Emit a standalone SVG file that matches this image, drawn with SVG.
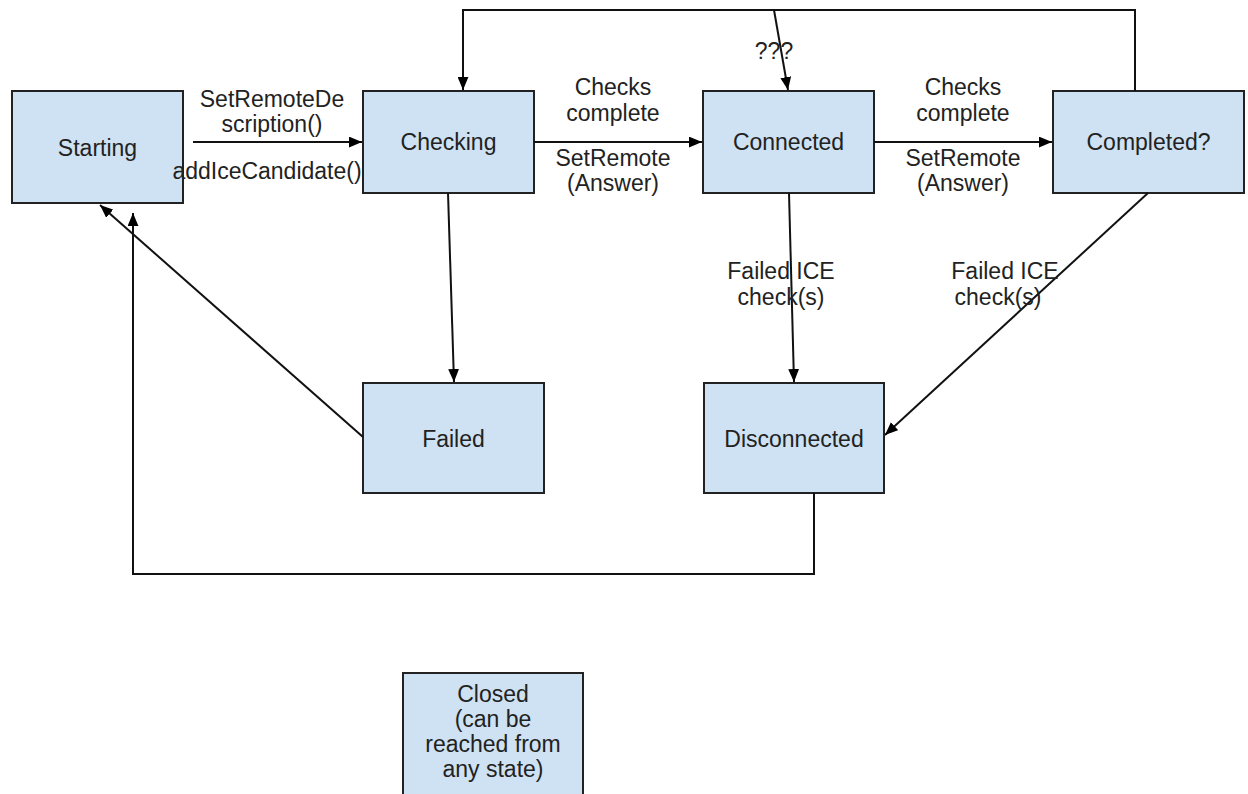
<svg xmlns="http://www.w3.org/2000/svg" width="1248" height="794" viewBox="0 0 1248 794">
  <defs>
    <marker id="arr" viewBox="0 0 12 10" refX="12" refY="5" markerWidth="13" markerHeight="11" markerUnits="userSpaceOnUse" orient="auto">
      <path d="M0,0 L12,5 L0,10 Z" fill="#000"/>
    </marker>
  </defs>
  <style>
    .box { fill: #cfe2f3; stroke: #222; stroke-width: 2; }
    .lbl { font-family: "Liberation Sans", Arial, sans-serif; font-size: 23px; fill: #222; text-anchor: middle; }
    .edge { fill: none; stroke: #111; stroke-width: 2; }
    .arrow { marker-end: url(#arr); }
  </style>
  <rect width="1248" height="794" fill="#fff"/>

  <g id="starting">
    <rect class="box" x="12" y="91" width="171" height="112"/>
    <text class="lbl" x="97.5" y="156">Starting</text>
  </g>
  <g id="checking">
    <rect class="box" x="363" y="91" width="171" height="102"/>
    <text class="lbl" x="448.5" y="150">Checking</text>
  </g>
  <g id="connected">
    <rect class="box" x="703" y="91" width="171" height="102"/>
    <text class="lbl" x="788.5" y="150">Connected</text>
  </g>
  <g id="completed">
    <rect class="box" x="1053" y="91" width="191" height="102"/>
    <text class="lbl" x="1148.5" y="150">Completed?</text>
  </g>
  <g id="failed">
    <rect class="box" x="363" y="383" width="181" height="110"/>
    <text class="lbl" x="453.5" y="447">Failed</text>
  </g>
  <g id="disconnected">
    <rect class="box" x="704" y="383" width="180" height="110"/>
    <text class="lbl" x="794" y="447">Disconnected</text>
  </g>
  <g id="closed">
    <rect class="box" x="403" y="673" width="180" height="130"/>
    <text class="lbl" x="493" y="702">Closed</text>
    <text class="lbl" x="493" y="727">(can be</text>
    <text class="lbl" x="493" y="752">reached from</text>
    <text class="lbl" x="493" y="777">any state)</text>
  </g>

  <g id="connectors">
    <line class="edge arrow" x1="193" y1="142" x2="362" y2="142"/>
    <line class="edge arrow" x1="534" y1="142" x2="702" y2="142"/>
    <line class="edge arrow" x1="874" y1="142" x2="1052" y2="142"/>
    <polyline class="edge arrow" points="1135,91 1135,10 463,10 463,90"/>
    <line class="edge arrow" x1="774" y1="10" x2="788" y2="90"/>
    <line class="edge arrow" x1="448" y1="193" x2="454" y2="382"/>
    <line class="edge arrow" x1="789" y1="193" x2="794" y2="382"/>
    <line class="edge arrow" x1="1148" y1="193" x2="885" y2="435"/>
    <line class="edge arrow" x1="363" y1="437" x2="100" y2="205"/>
    <polyline class="edge arrow" points="814,493 814,574 133,574 133,213"/>
    <text class="lbl" x="272" y="107">SetRemoteDe</text>
    <text class="lbl" x="272" y="132">scription()</text>
    <text class="lbl" x="267" y="179">addIceCandidate()</text>
    <text class="lbl" x="613" y="95">Checks</text>
    <text class="lbl" x="613" y="121">complete</text>
    <text class="lbl" x="613" y="166">SetRemote</text>
    <text class="lbl" x="613" y="191">(Answer)</text>
    <text class="lbl" x="963" y="95">Checks</text>
    <text class="lbl" x="963" y="121">complete</text>
    <text class="lbl" x="963" y="166">SetRemote</text>
    <text class="lbl" x="963" y="191">(Answer)</text>
    <text class="lbl" x="774" y="59">???</text>
    <text class="lbl" x="781" y="279">Failed ICE</text>
    <text class="lbl" x="781" y="305">check(s)</text>
    <text class="lbl" x="1005" y="279">Failed ICE</text>
    <text class="lbl" x="998" y="305">check(s)</text>
  </g>
</svg>
